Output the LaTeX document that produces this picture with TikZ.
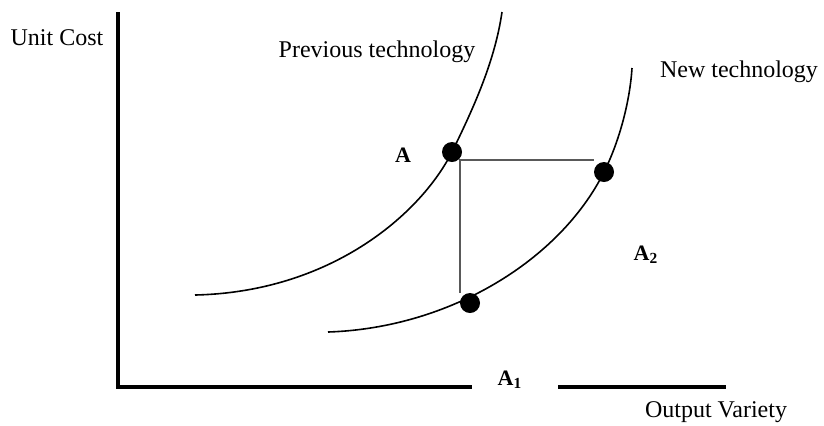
\documentclass[tikz,border=0pt]{standalone}
\usepackage{fontspec}
\setmainfont{Liberation Serif}
\usetikzlibrary{positioning, calc}

\begin{document}
\begin{tikzpicture}[
  x=0.5pt, y=-0.5pt,
  axis/.style={line width=2pt, black},
  crv/.style={line width=0.8pt, black},
  rl/.style={line width=0.9pt, black!65},
  dot/.style={circle, fill=black, inner sep=0pt, minimum size=10pt},
  lbl/.style={font=\fontsize{12}{14}\selectfont, inner sep=0pt},
  pt/.style={font=\fontsize{11}{13}\selectfont\bfseries, inner sep=0pt}
]
\useasboundingbox (0,0) rectangle (824,425);
% axes
\coordinate (ytop) at (118,12);
\coordinate (origin) at (118,387);
\coordinate (xmid) at (472,387);
\coordinate (xgap) at (558,387);
\coordinate (xend) at (726,387);
\draw[axis] (ytop) -- (origin) -- (xmid);
\draw[axis] (xgap) -- (xend);
% points
\node[dot] (pA) at (452,152) {};
\node[dot] (pR) at (604,172) {};
\node[dot] (pB) at (470,303) {};
% cost curves
\draw[crv] (195,295) .. controls (330,292) and (420,215) .. (pA.center)
  .. controls (475,105) and (495,60) .. (502,12);
\draw[crv] (328,332) .. controls (450,328) and (560,260) .. (pR.center)
  .. controls (620,140) and (630,100) .. (632,68);
\coordinate (corner) at (460,160);
\draw[rl] (corner -| pR.west) -- (corner) -- (corner |- pB.north);
% labels
\node[lbl] (ycap) at (57,38) {Unit Cost};
\node[lbl] (prev) at (377,52) {Previous technology};
\node[lbl] (new) at (739,72) {New technology};
\node[lbl] (xcap) at (716,412) {Output Variety};
\node[pt] (lA) at (403,155) {A};
\node[pt] (lA2) at (646,255) {A\textsubscript{2}};
\node[pt] (lA1) at (510,380) {A\textsubscript{1}};
\end{tikzpicture}
\end{document}
